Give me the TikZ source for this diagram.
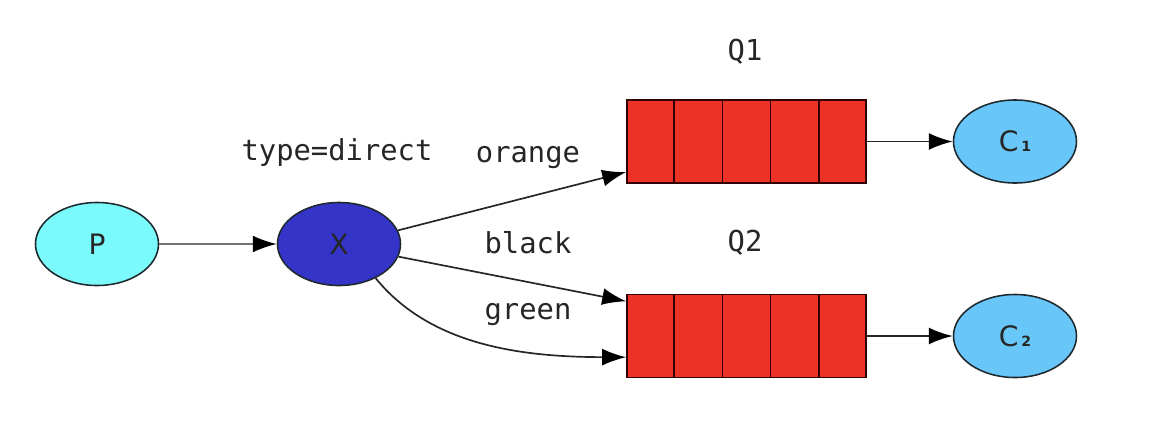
\documentclass[tikz,border=0pt]{standalone}
\usepackage{fontspec}
\setmainfont{DejaVu Sans}
\newfontfamily\labelfont{DejaVu Sans Mono}
\usetikzlibrary{shapes.geometric,arrows.meta,calc}

\definecolor{prodcyan}{RGB}{122,250,250}
\definecolor{exchblue}{RGB}{52,52,200}
\definecolor{queuered}{RGB}{236,50,36}
\definecolor{conscyan}{RGB}{104,198,248}
\definecolor{edgegray}{RGB}{30,40,45}

\tikzset{
  client/.style={ellipse, draw=edgegray, line width=1.1pt, inner sep=0pt,
    minimum width=3.075cm, minimum height=2.075cm,
    font=\fontsize{20}{24}\selectfont, text=black!85},
  queue/.style={rectangle, draw=black!80!red, line width=1.2pt, fill=queuered,
    minimum width=5.975cm, minimum height=2.075cm, inner sep=0pt},
  lbl/.style={font=\labelfont\fontsize{20.5}{24}\selectfont, text=black!85},
  flow/.style={-{Latex[length=17pt,width=12pt,fill=black,color=black]},
    line width=1.2pt, draw=black!85}
}

\newcommand{\sub}[1]{\hspace{2pt}{\fontsize{10}{10}\selectfont\bfseries #1}}

\begin{document}
\begin{tikzpicture}[x=0.025cm, y=-0.025cm]
    \useasboundingbox (0,0) rectangle (1167,429);

    % Producer and exchange
    \node[client, fill=prodcyan] (prod) at (97,244) {P};
    \node[client, fill=exchblue] (exch) at (339,244) {X};
    \node[lbl] (lbltype) at (337,153) {type=direct};

    % Queues
    \node[queue] (q1) at (746.5,141.5) {};
    \node[queue] (q2) at (746.5,336) {};
    \foreach \q in {q1,q2} {
      \foreach \i in {1,...,4} {
        \draw[line width=1.2pt, black!80!red]
          ($(\q.north west)!\i/5!(\q.north east)$) -- ($(\q.south west)!\i/5!(\q.south east)$);
      }
    }
    \node[lbl] (lblq1) at (745,52) {Q1};
    \node[lbl] (lblq2) at (745,243) {Q2};

    % Consumers
    \node[client, fill=conscyan] (cons1) at (1015,141.5) {C\sub{1}};
    \node[client, fill=conscyan] (cons2) at (1015,336) {C\sub{2}};

    % Bindings
    \draw[flow, draw=black!55] (prod) -- (exch);
    \draw[flow] (exch.13) -- ($(q1.north west)!0.86!(q1.south west)$);
    \draw[flow] (exch.-12) -- ($(q2.north west)!0.09!(q2.south west)$);
    \draw[flow] (exch.-43) .. controls (430,345) and (520,357) .. ($(q2.west)!0.5!(q2.south west)$);
    \node[lbl] (lblorange) at (528,158) {orange};
    \node[lbl] (lblblack) at (528,243) {black};
    \node[lbl] (lblgreen) at (528,315) {green};

    % Delivery
    \draw[flow] (q1) -- (cons1);
    \draw[flow] (q2) -- (cons2);
\end{tikzpicture}
\end{document}
